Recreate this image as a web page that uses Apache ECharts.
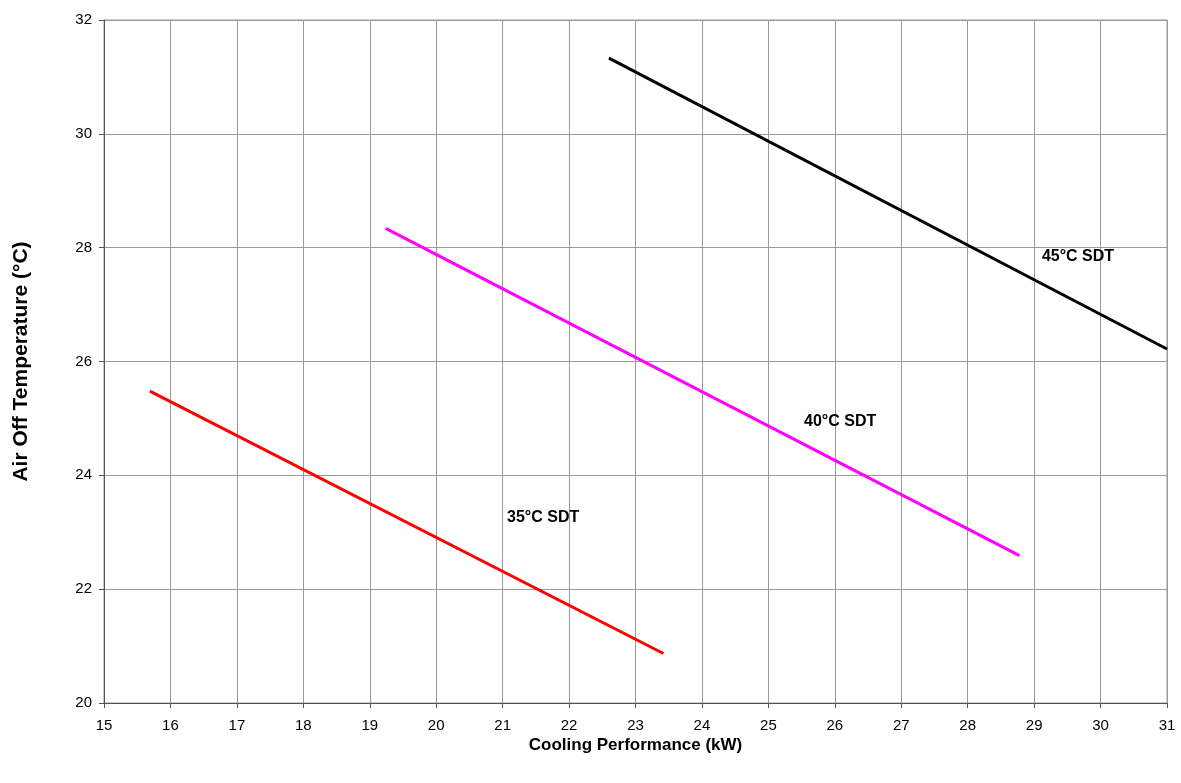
<!DOCTYPE html>
<html><head><meta charset="utf-8">
<script src="https://cdn.jsdelivr.net/npm/echarts@6/dist/echarts.min.js"></script>
<style>html,body{margin:0;padding:0;background:#fff}#c{width:1181px;height:783px}</style>
</head><body><div id="c"></div>
<script>
const xTicks = [15,16,17,18,19,20,21,22,23,24,25,26,27,28,29,30,31];
const yTicks = [20,22,24,26,28,30,32];
const sdt45 = [[22.6, 31.33], [31.0, 26.22]];
const sdt40 = [[19.24, 28.34], [28.78, 22.59]];
const sdt35 = [[15.69, 25.48], [23.42, 20.87]];
const labelNames = ['45°C SDT', '40°C SDT', '35°C SDT'];
const labelPos = [[29.66, 27.84], [26.08, 24.94], [21.61, 23.25]];

const chart = echarts.init(document.getElementById('c'));
const font = 'Liberation Sans, Arial, sans-serif';
chart.setOption({
  animation: false,
  grid: {left: 104, right: 14, top: 20, bottom: 80, show: true, borderColor: '#999', borderWidth: 1},
  xAxis: {
    type: 'value', min: 15, max: 31, interval: 1,
    name: 'Cooling Performance (kW)', nameLocation: 'middle', nameGap: 34, nameMoveOverlap: false,
    nameTextStyle: {fontFamily: font, fontSize: 17, fontWeight: 'bold', color: '#000'},
    axisLine: {lineStyle: {color: '#555', width: 1}},
    axisTick: {show: true, length: 5, lineStyle: {color: '#555'}},
    axisLabel: {fontFamily: font, fontSize: 15, color: '#000', margin: 15},
    splitLine: {show: true, lineStyle: {color: '#999', width: 1}}
  },
  yAxis: {
    type: 'value', min: 20, max: 32, interval: 2,
    name: 'Air Off Temperature (°C)', nameLocation: 'middle', nameGap: 72, nameMoveOverlap: false,
    nameTextStyle: {fontFamily: font, fontSize: 21, fontWeight: 'bold', color: '#000'},
    axisLine: {show: true, lineStyle: {color: '#555', width: 1}},
    axisTick: {show: true, length: 5, lineStyle: {color: '#555'}},
    axisLabel: {fontFamily: font, fontSize: 15, color: '#000', margin: 12},
    splitLine: {show: true, lineStyle: {color: '#999', width: 1}}
  },
  series: [
    {type: 'line', data: sdt45, symbol: 'none', lineStyle: {color: '#000', width: 3}},
    {type: 'line', data: sdt40, symbol: 'none', lineStyle: {color: '#ff00ff', width: 3}},
    {type: 'line', data: sdt35, symbol: 'none', lineStyle: {color: '#ff0000', width: 3}},
    {type: 'scatter', symbolSize: 0, silent: true, itemStyle: {opacity: 1},
     data: labelPos.map((p, i) => ({value: p, name: labelNames[i]})),
     label: {show: true, position: 'inside', formatter: '{b}', fontFamily: font, fontSize: 16, fontWeight: 'bold', color: '#000', opacity: 1}}
  ]
});
</script></body></html>
